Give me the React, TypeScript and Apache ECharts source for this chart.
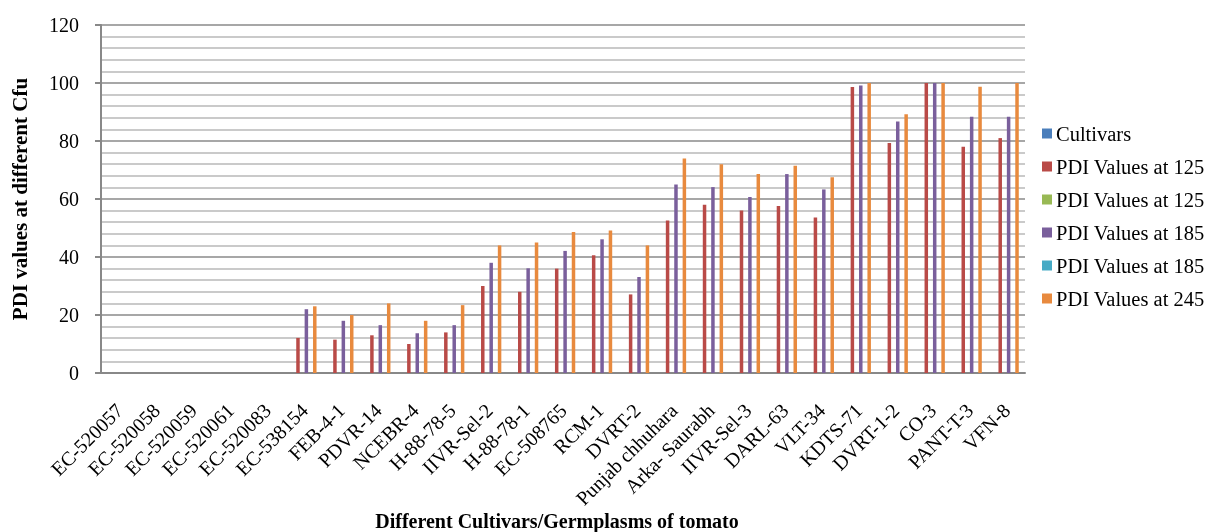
import React, { useEffect, useRef } from "react";
import * as echarts from "echarts";

const categories = [
  "EC-520057", "EC-520058", "EC-520059", "EC-520061", "EC-520083", "EC-538154",
  "FEB-4-1", "PDVR-14", "NCEBR-4", "H-88-78-5", "IIVR-Sel-2", "H-88-78-1",
  "EC-508765", "RCM-1", "DVRT-2", "Punjab chhuhara", "Arka- Saurabh", "IIVR-Sel-3",
  "DARL-63", "VLT-34", "KDTS-71", "DVRT-1-2", "CO-3", "PANT-T-3", "VFN-8",
];

// Two pairs of series share the same visible label in the source; a zero-width
// space keeps them distinct for the legend.
const seriesNames = [
  "Cultivars",
  "PDI Values at 125",
  "PDI Values at 125\u200B",
  "PDI Values at 185",
  "PDI Values at 185\u200B",
  "PDI Values at 245",
];

const N = null;
const cultivars = [N, N, N, N, N, N, N, N, N, N, N, N, N, N, N, N, N, N, N, N, N, N, N, N, N];
const pdi125 = [N, N, N, N, N, 12.1, 11.5, 13, 10, 14, 30, 28, 36, 40.6, 27.1, 52.6, 58, 56, 57.6, 53.6, 98.6, 79.3, 100, 78, 81];
const pdi125b = [N, N, N, N, N, N, N, N, N, N, N, N, N, N, N, N, N, N, N, N, N, N, N, N, N];
const pdi185 = [N, N, N, N, N, 22, 18, 16.5, 13.7, 16.5, 38, 36.1, 42.1, 46.1, 33.1, 65, 64.1, 60.7, 68.6, 63.3, 99.1, 86.7, 100, 88.4, 88.4];
const pdi185b = [N, N, N, N, N, N, N, N, N, N, N, N, N, N, N, N, N, N, N, N, N, N, N, N, N];
const pdi245 = [N, N, N, N, N, 23, 20, 24, 18, 23.4, 44, 45, 48.6, 49.1, 44, 74, 72, 68.6, 71.5, 67.5, 100, 89.2, 100, 98.7, 100];

const colors = ["#4A7EBB", "#B94A47", "#98B954", "#7A5F9C", "#46AAC5", "#E88A3E"];
const FONT = "Liberation Serif, Times New Roman, serif";

export default function App() {
  const ref = useRef<HTMLDivElement>(null);
  useEffect(() => {
    if (!ref.current) return;
    const chart = echarts.init(ref.current, undefined, { renderer: "svg" });
    const data = [cultivars, pdi125, pdi125b, pdi185, pdi185b, pdi245];
    chart.setOption({
      animation: false,
      color: colors,
      textStyle: { fontFamily: FONT },
      grid: {
        left: 101,
        right: 185,
        top: 25,
        bottom: 159,
        containLabel: false,
        outerBoundsMode: "none",
      },
      legend: {
        orient: "vertical",
        left: 1037,
        top: 118,
        itemWidth: 10,
        itemHeight: 10,
        itemGap: 12,
        icon: "rect",
        textStyle: { fontFamily: FONT, fontSize: 20.5, color: "#000", padding: [0, 0, 0, -1] },
        data: seriesNames.map((n, i) => ({ name: n, itemStyle: { color: colors[i] } })),
      },
      xAxis: {
        type: "category",
        data: categories,
        name: "Different Cultivars/Germplasms of tomato",
        nameLocation: "middle",
        nameGap: 138,
        nameMoveOverlap: false,
        nameTextStyle: {
          fontFamily: FONT,
          fontSize: 20,
          fontWeight: "bold",
          color: "#000",
          padding: [0, 12, 0, 0],
        },
        axisLine: { lineStyle: { color: "#888", width: 2 } },
        axisTick: { show: false },
        axisLabel: {
          rotate: 45,
          interval: 0,
          margin: 34,
          fontFamily: FONT,
          fontSize: 20,
          color: "#000",
        },
      },
      yAxis: {
        type: "value",
        min: 0,
        max: 120,
        interval: 20,
        name: "PDI values at different Cfu",
        nameLocation: "middle",
        nameGap: 71,
        nameTextStyle: { fontFamily: FONT, fontSize: 21, fontWeight: "bold", color: "#000" },
        axisLine: { show: true, lineStyle: { color: "#888", width: 2 } },
        axisTick: { show: true, length: 6, lineStyle: { color: "#888", width: 2 } },
        axisLabel: { margin: 22, fontFamily: FONT, fontSize: 20, color: "#000" },
        splitLine: { show: true, lineStyle: { color: "#8a8a8a", width: 1.5 } },
        minorTick: { show: false, splitNumber: 5 },
        minorSplitLine: { show: true, lineStyle: { color: "#b8b8b8", width: 1.5 } },
      },
      series: data.map((d, i) => ({
        name: seriesNames[i],
        type: "bar",
        data: d,
        barWidth: 3.5,
        barGap: "20%",
        itemStyle: { color: colors[i] },
      })),
    });
    return () => chart.dispose();
  }, []);
  return (
    <div
      ref={ref}
      style={{ position: "fixed", left: 0, top: 0, width: 1210, height: 532 }}
    />
  );
}
